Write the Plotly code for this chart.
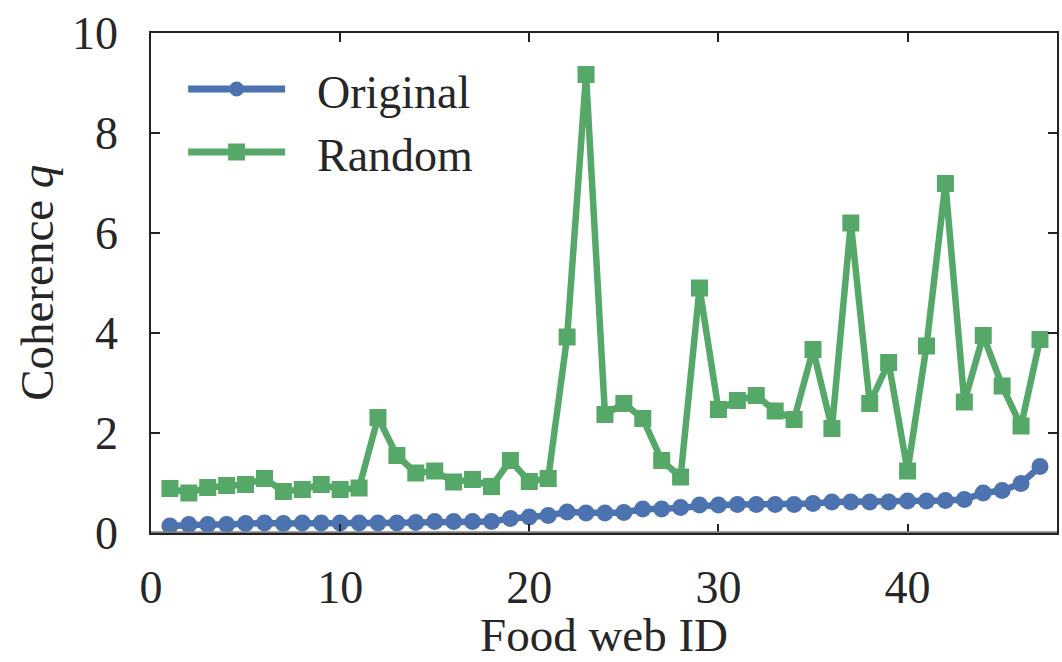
import plotly.graph_objects as go

# Food web IDs and coherence values
web_ids = list(range(1, 48))

q_original = [0.14, 0.17, 0.17, 0.17, 0.19, 0.20, 0.19, 0.20, 0.20, 0.20,
              0.20, 0.20, 0.20, 0.21, 0.23, 0.23, 0.23, 0.23, 0.29, 0.32,
              0.35, 0.42, 0.40, 0.40, 0.41, 0.48, 0.48, 0.51, 0.56, 0.56,
              0.57, 0.57, 0.57, 0.57, 0.59, 0.62, 0.62, 0.62, 0.62, 0.64,
              0.64, 0.65, 0.67, 0.80, 0.85, 0.99, 1.33]

q_random = [0.89, 0.80, 0.91, 0.95, 0.97, 1.09, 0.83, 0.87, 0.97, 0.87,
            0.90, 2.31, 1.55, 1.20, 1.24, 1.02, 1.07, 0.93, 1.45, 1.03,
            1.09, 3.92, 9.17, 2.37, 2.59, 2.29, 1.45, 1.12, 4.90, 2.47,
            2.65, 2.75, 2.44, 2.27, 3.67, 2.09, 6.20, 2.59, 3.41, 1.24,
            3.74, 6.99, 2.62, 3.95, 2.94, 2.14, 3.87]

series_names = ["Original", "Random"]
x_ticks = [0, 10, 20, 30, 40]
y_ticks = [0, 2, 4, 6, 8, 10]
x_title = "Food web ID"
y_title = "Coherence <i>q</i>"

BLUE = "#4C72B0"
GREEN = "#55A868"
TEXT = "#262626"
FONT = "Liberation Serif, Times New Roman, serif"

fig = go.Figure()

fig.add_trace(go.Scatter(
    x=web_ids, y=q_original, mode="lines+markers", name=series_names[0],
    line=dict(color=BLUE, width=6.5),
    marker=dict(symbol="circle", size=17, color=BLUE),
    showlegend=False,
))
fig.add_trace(go.Scatter(
    x=web_ids, y=q_random, mode="lines+markers", name=series_names[1],
    line=dict(color=GREEN, width=6.5),
    marker=dict(symbol="square", size=17, color=GREEN),
    showlegend=False,
))

# gray baseline along the bottom of the frame
fig.add_shape(type="line", xref="paper", yref="y", x0=0, x1=1, y0=0, y1=0,
              line=dict(color="#7f7f7f", width=3.5), layer="above")

# legend with long line samples, drawn in paper coordinates
legend_rows = [
    (series_names[0], BLUE, "circle", 0.888, 7.5),
    (series_names[1], GREEN, "rect", 0.762, 8.5),
]
for label, color, kind, ly, half in legend_rows:
    fig.add_shape(type="line", xref="paper", yref="paper",
                  x0=0.041, x1=0.148, y0=ly, y1=ly,
                  line=dict(color=color, width=7))
    fig.add_shape(type=kind, xref="paper", yref="paper",
                  xsizemode="pixel", ysizemode="pixel",
                  xanchor=0.0945, yanchor=ly,
                  x0=-half, x1=half, y0=-half, y1=half,
                  fillcolor=color, line=dict(width=0))
    fig.add_annotation(xref="paper", yref="paper", x=0.181, y=ly - 0.006,
                       xanchor="left", yanchor="middle", showarrow=False,
                       text=label, font=dict(family=FONT, size=46, color=TEXT))

# axis titles
fig.add_annotation(xref="paper", yref="paper", x=0.5, y=-0.204,
                   xanchor="center", yanchor="middle", showarrow=False,
                   text=x_title, font=dict(family=FONT, size=47, color=TEXT))
fig.add_annotation(xref="paper", yref="paper", x=-0.126, y=0.5,
                   xanchor="center", yanchor="middle", showarrow=False,
                   textangle=-90,
                   text=y_title, font=dict(family=FONT, size=47, color=TEXT))

axis_common = dict(
    showgrid=False, zeroline=False, showline=True, linecolor="#222222",
    linewidth=1.5, mirror="ticks", ticks="inside", ticklen=9, tickwidth=1.5,
    tickcolor="#222222", tickfont=dict(family=FONT, size=46, color=TEXT),
)

fig.update_layout(
    width=1062, height=662,
    margin=dict(l=151, r=3, t=33, b=129),
    paper_bgcolor="white", plot_bgcolor="white",
    font=dict(family=FONT, color=TEXT),
    showlegend=False,
    xaxis=dict(range=[0, 47.9], tickvals=x_ticks, ticklabelstandoff=13,
               **axis_common),
    yaxis=dict(range=[0, 10], tickvals=y_ticks, ticklabelstandoff=22,
               **axis_common),
)

fig.write_html("out.html")
